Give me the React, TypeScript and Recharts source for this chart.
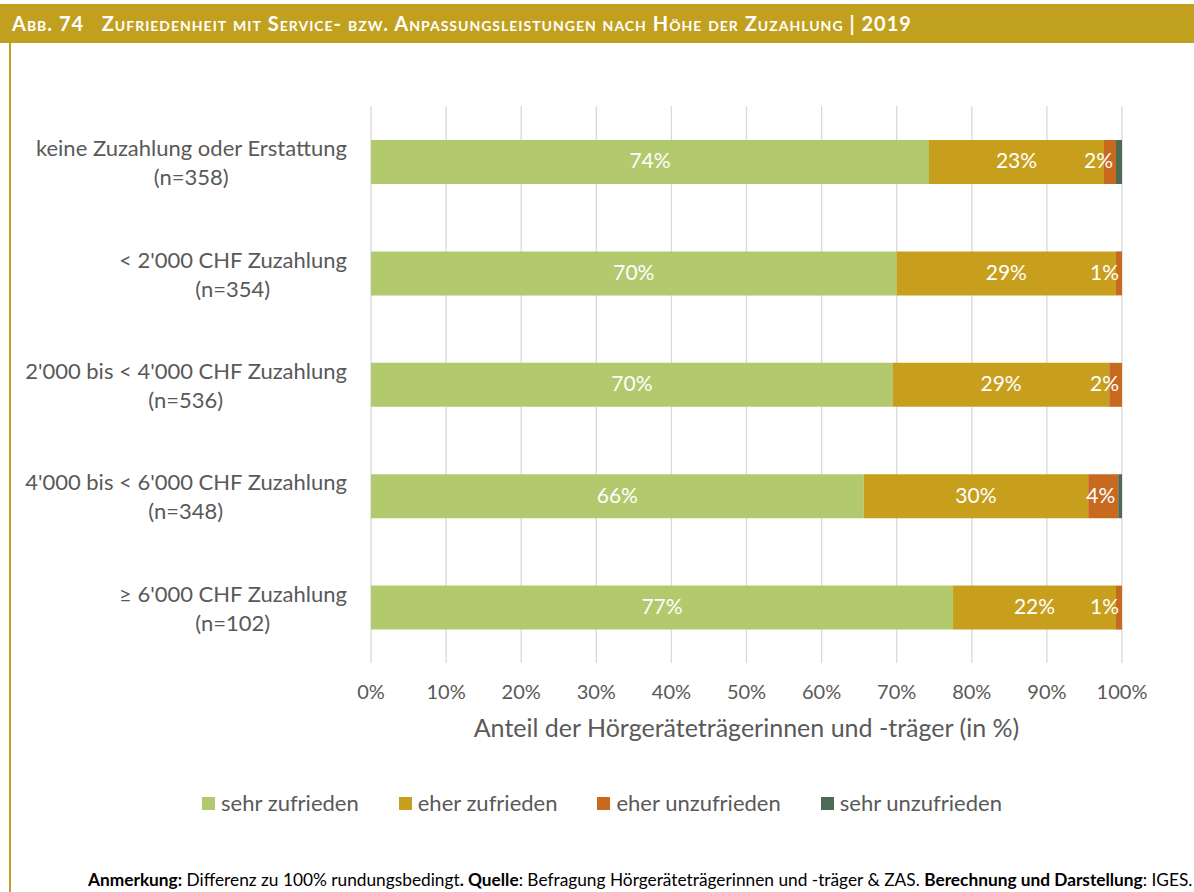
import { BarChart, Bar, XAxis, YAxis, CartesianGrid, LabelList } from 'recharts'

const categories = [
  'keine Zuzahlung oder Erstattung',
  "< 2'000 CHF Zuzahlung",
  "2'000 bis < 4'000 CHF Zuzahlung",
  "4'000 bis < 6'000 CHF Zuzahlung",
  "≥ 6'000 CHF Zuzahlung",
]
const sampleSizes = ['(n=358)', '(n=354)', '(n=536)', '(n=348)', '(n=102)']

const sehrZufrieden = [74.3, 70.0, 69.5, 65.6, 77.5]
const eherZufrieden = [23.3, 29.2, 28.8, 29.9, 21.7]
const eherUnzufrieden = [1.6, 0.8, 1.7, 4.0, 0.8]
const sehrUnzufrieden = [0.8, 0, 0, 0.5, 0]

const sehrZufriedenLabels = ['74%', '70%', '70%', '66%', '77%']
const eherZufriedenLabels = ['23%', '29%', '29%', '30%', '22%']
const eherUnzufriedenLabels = ['2%', '1%', '2%', '4%', '1%']

const xTicks = [0, 10, 20, 30, 40, 50, 60, 70, 80, 90, 100]

const SERIES = [
  { key: 'sz', name: 'sehr zufrieden', color: '#B2C96E' },
  { key: 'ez', name: 'eher zufrieden', color: '#C89F1C' },
  { key: 'eu', name: 'eher unzufrieden', color: '#C7691F' },
  { key: 'su', name: 'sehr unzufrieden', color: '#4D6A55' },
]

const FONT = 'Lato, "Noto Sans", sans-serif'
const TEXT = '#595959'
const GOLD = '#C2A01F'

const data = categories.map((c, i) => ({
  name: c,
  sz: sehrZufrieden[i],
  ez: eherZufrieden[i],
  eu: eherUnzufrieden[i],
  su: sehrUnzufrieden[i],
  szL: sehrZufriedenLabels[i],
  ezL: eherZufriedenLabels[i],
  euL: eherUnzufriedenLabels[i],
}))

let ctx: CanvasRenderingContext2D | null = null
function measure(text: string, font: string) {
  if (!ctx) ctx = document.createElement('canvas').getContext('2d')
  if (!ctx) return text.length * 10
  ctx.font = font
  return ctx.measureText(text).width
}

function CategoryTick(props: any) {
  const { x, y, payload } = props
  const line1 = payload.value
  const line2 = sampleSizes[categories.indexOf(line1)]
  const right = x - 16
  const w = measure(line1, `22px ${FONT}`)
  return (
    <g>
      <text x={right} y={y - 11} textAnchor="end" dominantBaseline="middle" fill={TEXT} fontSize={22} fontFamily={FONT}>
        {line1}
      </text>
      <text x={right - w / 2} y={y + 18} textAnchor="middle" dominantBaseline="middle" fill={TEXT} fontSize={22} fontFamily={FONT}>
        {line2}
      </text>
    </g>
  )
}

function centerLabel(props: any) {
  const { x, y, width, height, value } = props
  return (
    <text x={x + width / 2} y={y + height / 2 + 1} textAnchor="middle" dominantBaseline="middle" fill="#fff" fontSize={21} fontFamily={FONT}>
      {value}
    </text>
  )
}

function endLabel(props: any) {
  const { x, y, width, height, value } = props
  return (
    <text x={x + width - 3} y={y + height / 2 + 1} textAnchor="end" dominantBaseline="middle" fill="#fff" fontSize={21} fontFamily={FONT}>
      {value}
    </text>
  )
}

export default function App() {
  return (
    <div style={{ position: 'absolute', left: 0, top: 0, width: 1194, height: 892, background: '#fff', fontFamily: FONT }}>
      <div
        style={{
          position: 'absolute', left: 0, top: 4, width: 1194, height: 39, background: GOLD,
          color: '#fff', fontWeight: 700, fontSize: 20, fontVariant: 'small-caps', letterSpacing: 1,
          lineHeight: '39px', paddingLeft: 12, boxSizing: 'border-box', whiteSpace: 'nowrap',
        }}
      >
        Abb. 74&nbsp;&nbsp; Zufriedenheit mit Service- bzw. Anpassungsleistungen nach Höhe der Zuzahlung | 2019
      </div>
      <div style={{ position: 'absolute', left: 9, top: 43, width: 2, height: 849, background: GOLD }} />
      <div style={{ position: 'absolute', left: 0, top: 0 }}>
        <BarChart
          width={1194}
          height={840}
          data={data}
          layout="vertical"
          margin={{ top: 106, right: 72, bottom: 0, left: 0 }}
          barSize={44}
        >
          <CartesianGrid horizontal={false} stroke="#D9D9D9" strokeWidth={1.3} />
          <XAxis
            type="number"
            domain={[0, 100]}
            ticks={xTicks}
            tickFormatter={(v) => `${v}%`}
            axisLine={false}
            tickLine={false}
            tick={{ fontSize: 20, fill: TEXT, fontFamily: FONT }}
            tickMargin={16}
            height={177}
            label={{ value: 'Anteil der Hörgeräteträgerinnen und -träger (in %)', position: 'insideTop', offset: 56, fontSize: 25, fill: TEXT, fontFamily: FONT }}
          />
          <YAxis
            type="category"
            dataKey="name"
            width={371}
            axisLine={false}
            tickLine={false}
            tick={<CategoryTick />}
          />
          <Bar dataKey="sz" name={SERIES[0].name} stackId="a" fill={SERIES[0].color} isAnimationActive={false}>
            <LabelList dataKey="szL" content={centerLabel} />
          </Bar>
          <Bar dataKey="ez" name={SERIES[1].name} stackId="a" fill={SERIES[1].color} isAnimationActive={false}>
            <LabelList dataKey="ezL" content={centerLabel} />
          </Bar>
          <Bar dataKey="eu" name={SERIES[2].name} stackId="a" fill={SERIES[2].color} isAnimationActive={false}>
            <LabelList dataKey="euL" content={endLabel} />
          </Bar>
          <Bar dataKey="su" name={SERIES[3].name} stackId="a" fill={SERIES[3].color} isAnimationActive={false} />
        </BarChart>
      </div>
      <div
        style={{
          position: 'absolute', left: 0, top: 788, width: 1204, display: 'flex', justifyContent: 'center',
          fontFamily: FONT, fontSize: 22, color: TEXT, lineHeight: '30px',
        }}
      >
        {SERIES.map((s) => (
          <div key={s.key} style={{ display: 'flex', alignItems: 'center', margin: '0 20px' }}>
            <span style={{ width: 13, height: 13, background: s.color, display: 'inline-block', marginRight: 6 }} />
            <span>{s.name}</span>
          </div>
        ))}
      </div>
      <div
        style={{
          position: 'absolute', left: 88, top: 869, whiteSpace: 'nowrap',
          fontSize: 17.3, color: '#000', fontFamily: FONT,
        }}
      >
        <b>Anmerkung:</b> Differenz zu 100% rundungsbedingt<b>. Quelle</b>: Befragung Hörgeräteträgerinnen und -träger &amp; ZAS. <b>Berechnung und Darstellung</b>: IGES.
      </div>
    </div>
  )
}
